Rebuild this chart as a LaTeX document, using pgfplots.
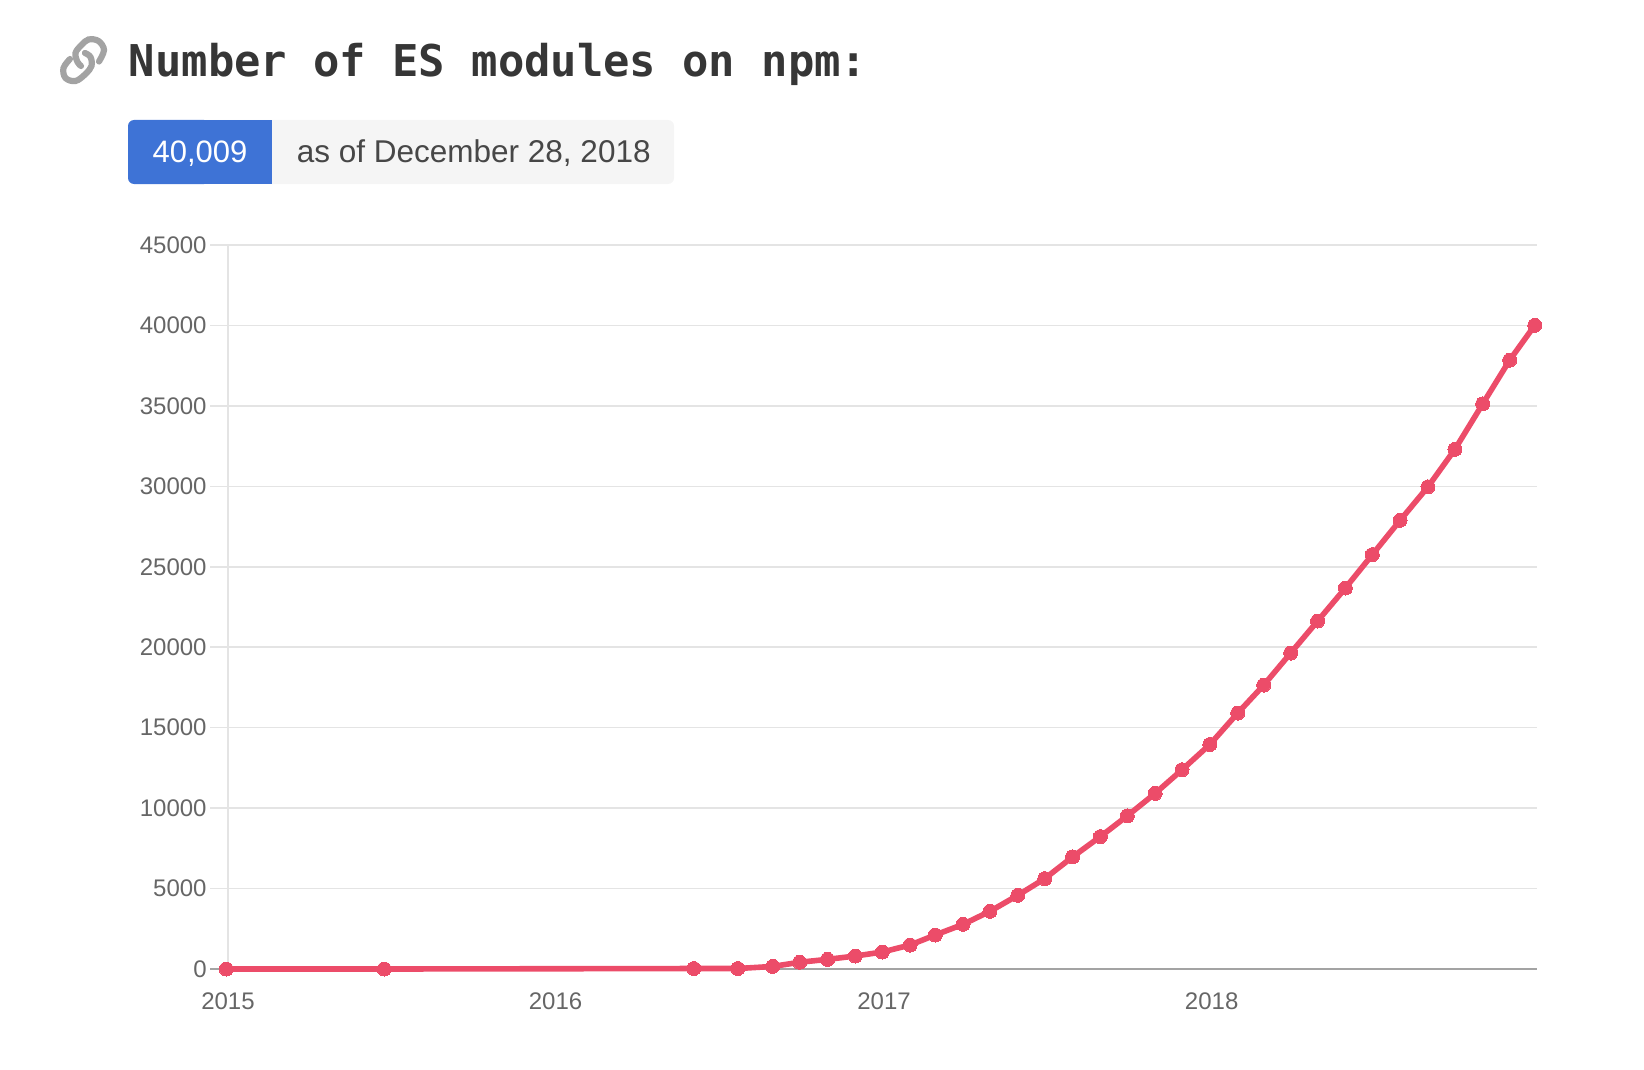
\documentclass[border=0pt]{standalone}
\usepackage{fontspec}
\usepackage{pgfplots}
\usepackage{pgfplotstable}
\pgfplotsset{compat=1.18}
\setmainfont{Liberation Sans}
\newfontfamily\titlefont{DejaVu Sans Mono}
\definecolor{linered}{HTML}{EC4C69}
\definecolor{tagblue}{HTML}{3E73D6}
\definecolor{taggray}{HTML}{F5F5F5}
\definecolor{gridgray}{HTML}{E4E4E4}
\definecolor{zerogray}{HTML}{A3A3A3}
\definecolor{ticktext}{HTML}{666666}

% days since 2015-01-01, number of modules
\pgfplotstableread{
day value
-2 0
174 0
519 30
568 30
607 160
637 420
668 600
699 807
729 1056
760 1491
788 2113
819 2777
849 3585
880 4581
910 5618
941 6966
972 8231
1002 9517
1033 10915
1063 12385
1094 13955
1125 15905
1154 17645
1184 19635
1214 21625
1245 23680
1275 25755
1306 27890
1337 29970
1367 32300
1398 35125
1428 37840
1456 40009
}\esmodules

\begin{document}
\begin{tikzpicture}[x=0.5pt, y=-0.5pt]
    \path[use as bounding box] (0,0) rectangle (1644,1070);

    % link icon
    \begin{scope}[draw=zerogray, line width=3.1pt, line cap=round]
        \draw plot[smooth, tension=0.6] coordinates {
            (99,61.5) (104,50) (98.5,41) (88.5,39.5) (81.5,45) (75.5,53) (77.5,62) (81,66)};
        \draw plot[smooth, tension=0.6] coordinates {
            (70,59) (63.5,68) (65.5,78) (75.5,81) (85.5,74) (91.5,66) (90.5,57) (85,53)};
    \end{scope}

    % title
    \node[anchor=base west, inner sep=0pt, text=black!79] at (128.5,77)
        {\titlefont\fontsize{21.9pt}{24pt}\selectfont\bfseries Number of ES modules on npm:};

    % tag
    \fill[taggray, rounded corners=3pt] (200,120) rectangle (674,184);
    \fill[tagblue, rounded corners=3pt] (128,120) rectangle (210,184);
    \fill[tagblue] (200,120) rectangle (272,184);
    \fill[taggray] (272,120) rectangle (300,184);
    \node[anchor=base, inner sep=0pt, text=white] at (200,162.5)
        {\fontsize{15.5pt}{18pt}\selectfont 40,009};
    \node[anchor=base west, inner sep=0pt, text=black!72] at (296.5,162.5)
        {\fontsize{15.75pt}{18pt}\selectfont as of December 28, 2018};

    \begin{axis}[
        at={(114pt,-484.5pt)},
        anchor=south west,
        scale only axis,
        width=654.5pt,
        height=362pt,
        xmin=0, xmax=1458.5,
        ymin=0, ymax=45000,
        clip=false,
        axis x line*=bottom,
        axis y line*=left,
        x axis line style={draw=none},
        y axis line style={draw=gridgray, line width=0.8pt},
        ytick={0,5000,...,45000},
        scaled y ticks=false,
        xtick={0,365,731,1096},
        xticklabels={2015,2016,2017,2018},
        ymajorgrids=true,
        major grid style={draw=gridgray, line width=0.8pt},
        tick align=outside,
        major tick length=9pt,
        y tick style={draw=gridgray, line width=0.8pt},
        x tick style={draw=none},
        tick label style={font=\fontsize{12pt}{14pt}\selectfont, text=ticktext, inner sep=0pt},
        yticklabel style={/pgf/number format/1000 sep={}, /pgf/number format/assume math mode=true, xshift=-1.5pt},
        xticklabel style={/pgf/number format/assume math mode=true, yshift=-2.9pt},
    ]
        % zero line
        \draw[zerogray, line width=1pt] (axis cs:-20,0) -- (axis cs:1458.5,0);

        \addplot[linered, line width=2.8pt, mark=*, mark size=3.5pt,
            mark options={fill=linered, draw=linered, line width=0pt}] table[x=day, y=value] {\esmodules};
    \end{axis}
\end{tikzpicture}
\end{document}
